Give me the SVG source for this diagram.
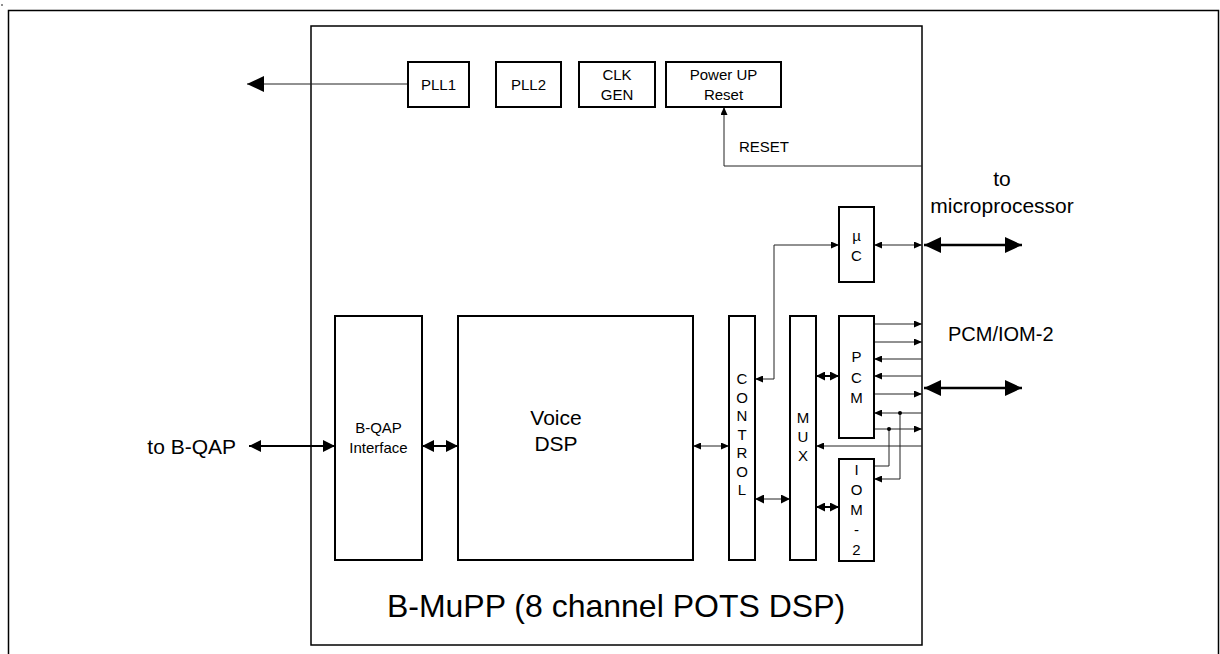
<svg xmlns="http://www.w3.org/2000/svg" width="1220" height="654" viewBox="0 0 1220 654">
<style>
text{font-family:"Liberation Sans",Arial,sans-serif;fill:#000;text-anchor:middle}
.box{fill:#fff;stroke:#000;stroke-width:2}
.thin{fill:none;stroke:#222;stroke-width:1}
.bold{fill:none;stroke:#000;stroke-width:2}
.big{fill:none;stroke:#000;stroke-width:2.5}
.s15{font-size:15px}
.s21{font-size:21px}
</style>
<defs>
<marker id="sa" markerUnits="userSpaceOnUse" viewBox="0 0 8 7" refX="8" refY="3.5" markerWidth="8" markerHeight="7" orient="auto-start-reverse"><path d="M0,0L8,3.5L0,7z" fill="#000"/></marker>
<marker id="ma" markerUnits="userSpaceOnUse" viewBox="0 0 12 12" refX="12" refY="6" markerWidth="12" markerHeight="12" orient="auto-start-reverse"><path d="M0,0L12,6L0,12z" fill="#000"/></marker>
<marker id="mb" markerUnits="userSpaceOnUse" viewBox="0 0 9 9" refX="9" refY="4.5" markerWidth="9" markerHeight="9" orient="auto-start-reverse"><path d="M0,0L9,4.5L0,9z" fill="#000"/></marker>
<marker id="la" markerUnits="userSpaceOnUse" viewBox="0 0 17 16" refX="17" refY="8" markerWidth="17" markerHeight="16" orient="auto-start-reverse"><path d="M0,0L17,8L0,16z" fill="#000"/></marker>
</defs>
<rect width="1220" height="654" fill="#fff"/>
<circle cx="2" cy="5" r="0.8" fill="#000"/>
<path d="M8.5,654V10.5H1218.5V654" fill="none" stroke="#000" stroke-width="1.5"/>
<g id="chip"><rect x="311" y="26" width="611" height="619" fill="#fff" stroke="#000" stroke-width="1.5"/>
<text x="616" y="617" style="font-size:32px">B-MuPP (8 channel POTS DSP)</text></g>
<g id="connectors">
<path class="thin" d="M408,84H247" marker-end="url(#la)"/>
<path class="thin" d="M922,166H724V107" marker-end="url(#sa)"/>
<path class="thin" d="M755,379H774V245H839" marker-start="url(#sa)" marker-end="url(#sa)"/>
<path class="thin" d="M874,245H922" marker-start="url(#sa)" marker-end="url(#sa)"/>
<path class="big" d="M924,245H1022" marker-start="url(#la)" marker-end="url(#la)"/>
<path class="big" d="M924,388H1022" marker-start="url(#la)" marker-end="url(#la)"/>
<path class="thin" d="M874,324H922" marker-end="url(#sa)"/>
<path class="thin" d="M874,342H922" marker-end="url(#sa)"/>
<path class="thin" d="M922,359H874" marker-end="url(#sa)"/>
<path class="thin" d="M922,376H874" marker-end="url(#sa)"/>
<path class="thin" d="M874,394H922" marker-end="url(#sa)"/>
<path class="thin" d="M922,413H874" marker-end="url(#sa)"/>
<path class="thin" d="M900,413V479H874" marker-end="url(#sa)"/>
<path class="thin" d="M874,429H922" marker-end="url(#sa)"/>
<path class="thin" d="M874,466H889V429"/>
<path class="thin" d="M922,446H816" marker-end="url(#sa)"/>
<circle cx="900" cy="413" r="2" fill="#000"/>
<circle cx="889" cy="429" r="2" fill="#000"/>
<path class="bold" d="M816,376H839" marker-start="url(#mb)" marker-end="url(#mb)"/>
<path class="bold" d="M816,507H839" marker-start="url(#mb)" marker-end="url(#mb)"/>
<path class="thin" d="M755,499H790" marker-start="url(#mb)" marker-end="url(#mb)"/>
<path class="thin" d="M693,446H729" marker-start="url(#sa)" marker-end="url(#sa)"/>
<path class="bold" d="M422,446H458" marker-start="url(#ma)" marker-end="url(#ma)"/>
<path class="bold" d="M249,446H335" marker-start="url(#ma)" marker-end="url(#ma)"/>
</g>
<g id="pll1"><rect class="box" x="408" y="62" width="61" height="45"/><text class="s15" x="438.5" y="90">PLL1</text></g>
<g id="pll2"><rect class="box" x="496" y="62" width="65" height="45"/><text class="s15" x="528.5" y="90">PLL2</text></g>
<g id="clkgen"><rect class="box" x="579" y="62" width="76" height="45"/><text class="s15" x="617" y="80">CLK</text><text class="s15" x="617" y="100">GEN</text></g>
<g id="reset"><rect class="box" x="666" y="62" width="115" height="45"/><text class="s15" x="723.5" y="80">Power UP</text><text class="s15" x="723.5" y="100">Reset</text></g>
<g id="uc"><rect class="box" x="839" y="207" width="35" height="75"/><text class="s15" x="856.5" y="241">µ</text><text class="s15" x="856.5" y="261">C</text></g>
<g id="bqap"><rect class="box" x="335" y="316" width="87" height="244"/><text class="s15" x="378.5" y="433">B-QAP</text><text class="s15" x="378.5" y="453">Interface</text></g>
<g id="voicedsp"><rect class="box" x="458" y="316" width="235" height="244"/><text class="s21" x="556" y="425">Voice</text><text class="s21" x="556" y="451">DSP</text></g>
<g id="control"><rect class="box" x="729" y="316" width="26" height="244"/>
<text class="s15"><tspan x="742" y="384">C</tspan><tspan x="742" y="402.5">O</tspan><tspan x="742" y="421">N</tspan><tspan x="742" y="439.5">T</tspan><tspan x="742" y="458">R</tspan><tspan x="742" y="476.5">O</tspan><tspan x="742" y="495">L</tspan></text></g>
<g id="mux"><rect class="box" x="790" y="316" width="26" height="244"/>
<text class="s15"><tspan x="803" y="423">M</tspan><tspan x="803" y="442">U</tspan><tspan x="803" y="461">X</tspan></text></g>
<g id="pcm"><rect class="box" x="839" y="316" width="35" height="122"/>
<text class="s15"><tspan x="856.5" y="362">P</tspan><tspan x="856.5" y="383">C</tspan><tspan x="856.5" y="403">M</tspan></text></g>
<g id="iom2"><rect class="box" x="839" y="459" width="35" height="102"/>
<text class="s15"><tspan x="856.5" y="475">I</tspan><tspan x="856.5" y="495">O</tspan><tspan x="856.5" y="515">M</tspan><tspan x="856.5" y="535">-</tspan><tspan x="856.5" y="555">2</tspan></text></g>
<g id="labels">
<text class="s15" x="739" y="152" style="text-anchor:start">RESET</text>
<text class="s21" x="1002" y="186">to</text>
<text class="s21" x="1002" y="213">microprocessor</text>
<text x="948" y="341" style="font-size:20px;text-anchor:start">PCM/IOM-2</text>
<text class="s21" x="236" y="454" style="text-anchor:end">to B-QAP</text>
</g>
</svg>
